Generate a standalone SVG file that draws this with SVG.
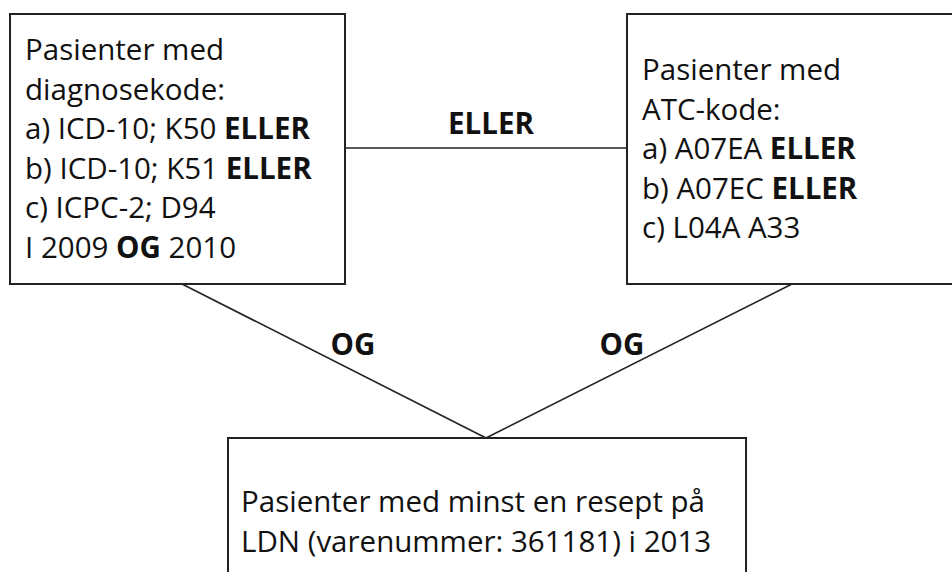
<svg xmlns="http://www.w3.org/2000/svg" width="952" height="572" viewBox="0 0 952 572">
<style>
.box{fill:#fff;stroke:#222;stroke-width:2}
.t{font-family:"Open Sans","Noto Sans","Liberation Sans",sans-serif;font-size:29.5px;fill:#111}
.b{font-weight:bold}
.conn{stroke:#222;stroke-width:1.6;fill:none}
</style>
<rect width="952" height="572" fill="#fff"/>
<g id="connectors">
<line class="conn" x1="345" y1="148" x2="627" y2="148"/>
<line class="conn" x1="182" y1="284" x2="486" y2="438"/>
<line class="conn" x1="792" y1="284" x2="486" y2="438"/>
<text class="t b" x="491" y="134" text-anchor="middle">ELLER</text>
<text class="t b" x="353" y="355" text-anchor="middle">OG</text>
<text class="t b" x="622" y="355" text-anchor="middle">OG</text>
</g>
<g id="node-diagnose">
<rect class="box" x="10" y="14" width="335" height="270"/>
<text class="t" x="25" y="60">Pasienter med</text>
<text class="t" x="25" y="99.5">diagnosekode:</text>
<text class="t" x="25" y="139">a) ICD-10; K50 <tspan class="b">ELLER</tspan></text>
<text class="t" x="25" y="178.5">b) ICD-10; K51 <tspan class="b">ELLER</tspan></text>
<text class="t" x="25" y="218">c) ICPC-2; D94</text>
<text class="t" x="25" y="257.5">I 2009 <tspan class="b">OG</tspan> 2010</text>
</g>
<g id="node-atc">
<rect class="box" x="627" y="14" width="340" height="270"/>
<text class="t" x="642" y="80">Pasienter med</text>
<text class="t" x="642" y="119.5">ATC-kode:</text>
<text class="t" x="642" y="159">a) A07EA <tspan class="b">ELLER</tspan></text>
<text class="t" x="642" y="198.5">b) A07EC <tspan class="b">ELLER</tspan></text>
<text class="t" x="642" y="238">c) L04A A33</text>
</g>
<g id="node-ldn">
<rect class="box" x="228" y="438" width="518" height="160"/>
<text class="t" x="241" y="512">Pasienter med minst en resept på</text>
<text class="t" x="241" y="552">LDN (varenummer: 361181) i 2013</text>
</g>
</svg>
